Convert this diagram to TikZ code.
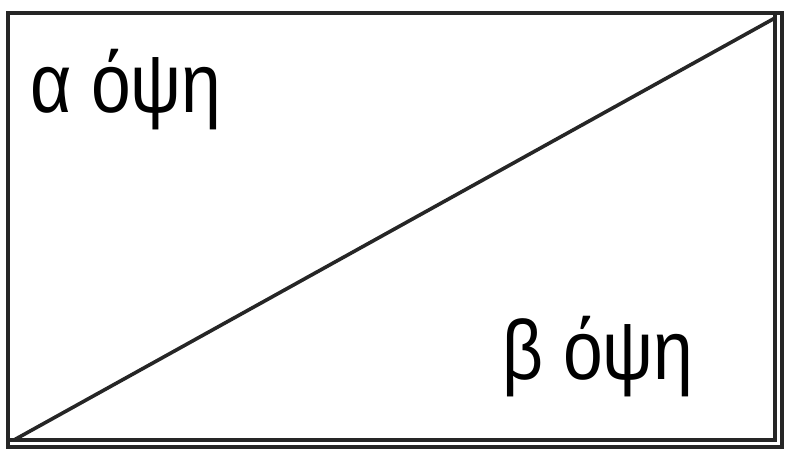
\documentclass[tikz,border=0pt]{standalone}
\usepackage{fontspec}
\setmainfont{Liberation Sans}[FakeStretch=0.85]
\begin{document}
\begin{tikzpicture}[x=1pt,y=1pt,
  edge/.style={line width=3.6pt,draw=black!85},
  lbl/.style={inner sep=0pt,anchor=base west,font=\fontsize{84}{90}\selectfont}]
\useasboundingbox (0,0) rectangle (800,460);
\coordinate (tl) at (8,447);
\coordinate (tr) at (782,447);
\coordinate (ir) at (775,447);
\coordinate (ibr) at (775,20);
\coordinate (bl) at (8,20);
\coordinate (obr) at (782,13);
\coordinate (obl) at (8,13);
\coordinate (dtop) at (775,442);
\coordinate (dbot) at (14,20);
\draw[edge] (obl) -- (tl) -- (tr) -- (obr) -- cycle;
\draw[edge] (ir) -- (ibr) -- (bl);
\draw[edge] (dbot) -- (dtop);
\node[lbl] (a) at (30,347) {α όψη};
\node[lbl] (b) at (502,80) {β όψη};
\end{tikzpicture}
\end{document}
